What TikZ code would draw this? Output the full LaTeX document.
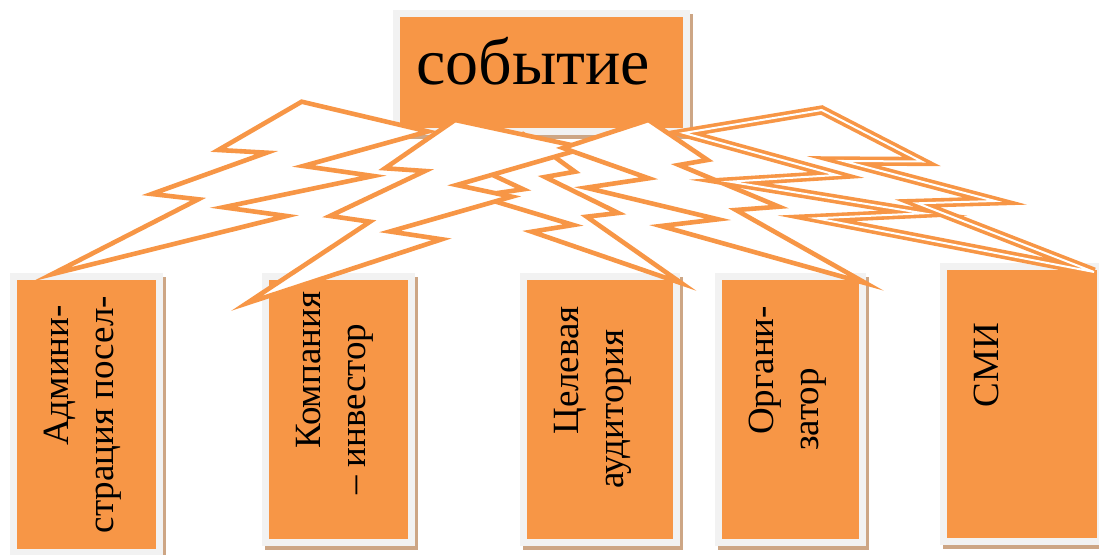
\documentclass[tikz,border=0pt]{standalone}
\usepackage{fontspec}
\setmainfont{Liberation Serif}

\definecolor{boxorange}{HTML}{F79646}
\definecolor{framegray}{HTML}{F2F2F2}
\definecolor{shadowtan}{RGB}{205,166,133}

\tikzset{
  actor/.style={rectangle, fill=boxorange, draw=framegray, line width=3.5pt, inner sep=0pt,
    preaction={draw=shadowtan, fill=shadowtan, line width=3.5pt,
      transform canvas={xshift=1.5pt, yshift=-2pt}}},
  role/.style={rotate=90, anchor=base, align=center, font=\fontsize{18.5}{22.5}\selectfont},
  bolt/.style={fill=white, draw=boxorange, line width=2.3pt, line join=miter},
  doublebolt/.style={bolt, line width=1.8pt, double=white, double distance=1pt}
}
\newcommand{\firstind}{\hspace*{39pt}}

\begin{document}
\begin{tikzpicture}[x=0.5pt, y=-0.5pt]
\useasboundingbox (0,0) rectangle (1099,555);
\clip (0,0) rectangle (1099,555);

% Top box
\node[actor, minimum width=145pt, minimum height=59pt] (event) at (541.5,72.5) {};
\node[font=\fontsize{33}{40}\selectfont, anchor=base] (eventtext) at (533,84.5) {событие};

% Bottom boxes
\node[actor, minimum width=73pt, minimum height=138pt] (admin) at (86.5,414.5) {};
\node[actor, minimum width=73pt, minimum height=133pt] (investor) at (338.9,409.4) {};
\node[actor, minimum width=76.5pt, minimum height=133pt] (audience) at (600,409.4) {};
\node[actor, minimum width=72pt, minimum height=133pt] (organizer) at (790.5,409.4) {};
\node[actor, minimum width=78.5pt, minimum height=137.5pt] (media) at (1022,404) {};

% Labels, rotated (base = last line)
\node[role] (admintext) at ([xshift=51.5pt]admin.west) {\firstind Админи-\\страция посел-};
\node[role] (investortext) at ([xshift=51.5pt]investor.west) {\firstind Компания\\– инвестор};
\node[role] (audiencetext) at ([xshift=51.5pt]audience.west) {\firstind Целевая\\аудитория};
\node[role] (organizertext) at ([xshift=51.5pt]organizer.west) {\firstind Органи-\\затор};
\node[role] (mediatext) at ([xshift=29pt]media.west) {\firstind СМИ};

% Lightning bolts from the event down to each box
\draw[bolt] (523,134) -- (575,171.7) -- (545,177) -- (618.3,213) -- (586.7,216.7)
  -- (681.7,283.3) -- (531.7,231.7) -- (573.3,225) -- (477,196) -- (523.3,189.3)
  -- (460.5,160) -- cycle; % audience
\draw[bolt] (246.7,303.3) -- (370,221.7) -- (330,216) -- (425,171) -- (385,168.3)
  -- (455,120) -- (585,148) -- (456.7,185) -- (511.7,196.7) -- (390,231.5)
  -- (441.7,239.3) -- cycle; % investor
\draw[bolt] (648.5,120) -- (707.6,160) -- (679,165) -- (779,206.7) -- (736,210)
  -- (866,283.3) -- (661,226) -- (718,219.3) -- (586,187.7) -- (648.7,178.3)
  -- (563,148) -- cycle; % organizer
\draw[bolt] (51.7,274.3) -- (198.3,199.3) -- (151.7,194) -- (266.7,152.7) -- (218.3,150)
  -- (301.7,101.7) -- (428,131.5) -- (303.3,166) -- (373.3,176) -- (223.3,207.3)
  -- (286.7,216) -- cycle; % admin
\draw[doublebolt] (684,133) -- (821.7,110) -- (921.7,161.5) -- (843.3,161) -- (995,201)
  -- (917.5,203.3) -- (1094,272) -- (816.5,218.3) -- (923.3,213.3) -- (730,181.7)
  -- (836.5,175) -- cycle; % media

\end{tikzpicture}
\end{document}
